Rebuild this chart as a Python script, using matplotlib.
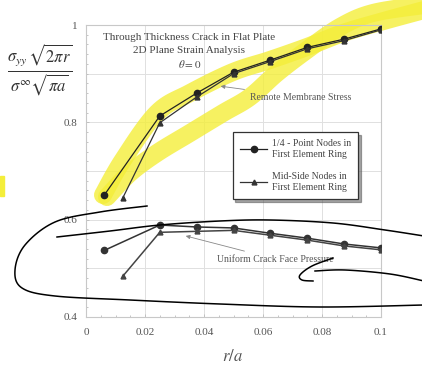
"""Crack-tip stress ratio vs r/a, scanned figure with pen marks."""
import numpy as np
import matplotlib
matplotlib.use("Agg")
import matplotlib.pyplot as plt

plt.rcParams['font.family'] = ['Liberation Serif', 'DejaVu Serif']
plt.rcParams['mathtext.fontset'] = 'stix'

# data
x_quarter = [0.00625, 0.025, 0.0375, 0.05, 0.0625, 0.075, 0.0875, 0.1]
x_mid = [0.0125, 0.025, 0.0375, 0.05, 0.0625, 0.075, 0.0875, 0.1]
remote_quarter = [0.651, 0.813, 0.860, 0.903, 0.928, 0.954, 0.971, 0.992]
remote_mid = [0.645, 0.799, 0.852, 0.900, 0.925, 0.951, 0.968, 0.990]
pressure_quarter = [0.537, 0.589, 0.585, 0.583, 0.572, 0.562, 0.550, 0.542]
pressure_mid = [0.484, 0.574, 0.576, 0.578, 0.568, 0.558, 0.546, 0.538]

title_lines = ["Through Thickness Crack in Flat Plate",
               "2D Plane Strain Analysis",
               r"$\theta = 0$"]
legend_labels = ["1/4 - Point Nodes in\nFirst Element Ring",
                 "Mid-Side Nodes in\nFirst Element Ring"]
x_ticks = [0, 0.02, 0.04, 0.06, 0.08, 0.1]
x_ticklabels = ["0", "0.02", "0.04", "0.06", "0.08", "0.1"]
y_ticks = [0.4, 0.6, 0.8, 1.0]
y_ticklabels = ["0.4", "0.6", "0.8", "1"]

# hand-drawn marks on the scan, in image pixels (x right, y down)
yellow_upper = [(103, 195), (123, 160), (157, 113), (190, 93), (233, 72),
                (270, 60), (307, 47), (343, 33), (380, 22), (424, 10)]
yellow_lower = [(107, 197), (130, 173), (157, 153), (190, 133), (223, 113),
                (250, 97), (277, 73), (307, 50), (340, 27), (373, 13), (424, 5)]
pen_outer = [(147, 206), (100, 212), (55, 222), (25, 245), (15, 270),
             (22, 288), (55, 296), (130, 300), (220, 304), (320, 307), (424, 305)]
pen_inner = [(57, 237), (110, 231), (160, 225), (220, 221), (270, 220),
             (333, 223), (385, 230), (424, 236)]
pen_hook = [(333, 258), (312, 266), (300, 275), (302, 280), (313, 281)]
pen_tail = [(424, 281), (390, 274), (345, 270), (315, 271)]

W, H = 422, 367


def smooth(pts, n=12):
    """Catmull-Rom through the stroke points."""
    p = np.array(pts, dtype=float)
    p = np.vstack([p[0], p, p[-1]])
    out = []
    for i in range(1, len(p) - 2):
        p0, p1, p2, p3 = p[i - 1], p[i], p[i + 1], p[i + 2]
        for t in np.linspace(0, 1, n, endpoint=False):
            out.append(0.5 * ((2 * p1) + (-p0 + p2) * t
                              + (2 * p0 - 5 * p1 + 4 * p2 - p3) * t ** 2
                              + (-p0 + 3 * p1 - 3 * p2 + p3) * t ** 3))
    out.append(p[-2])
    out = np.array(out)
    return out[:, 0] / W, 1 - out[:, 1] / H


fig = plt.figure(figsize=(4.22, 3.67), dpi=100)
ax = fig.add_axes([86 / W, 1 - 317 / H, 295 / W, 292 / H])

ax.plot(x_quarter, remote_quarter, color='#222222', lw=0.9, marker='o', ms=4.5, zorder=3)
ax.plot(x_mid, remote_mid, color='#333333', lw=0.9, marker='^', ms=3.5, zorder=3)
ax.plot(x_quarter, pressure_quarter, color='#333333', lw=1.1, marker='o', ms=4.5, zorder=3)
ax.plot(x_mid, pressure_mid, color='#444444', lw=1.1, marker='^', ms=3.5, zorder=3)

ax.set_xlim(0, 0.1)
ax.set_ylim(0.4, 1.0)
ax.set_xticks(x_ticks)
ax.set_xticklabels(x_ticklabels)
ax.set_yticks(y_ticks)
ax.set_yticklabels(y_ticklabels)
ax.set_xticks(np.arange(0, 0.1001, 0.005), minor=True)
ax.set_yticks(np.arange(0.4, 1.0001, 0.02), minor=True)
ax.tick_params(which='both', direction='in', colors='#bbbbbb', labelcolor='#555555',
               labelsize=8, length=2.5, width=0.6)
ax.tick_params(which='minor', length=1.5)
ax.tick_params(axis='x', pad=8)
ax.tick_params(axis='y', pad=6)
for sp in ax.spines.values():
    sp.set_color('#c8c8c8')
    sp.set_linewidth(0.8)
for gx in np.arange(0.02, 0.1, 0.02):
    ax.axvline(gx, color='#e0e0e0', lw=0.7, zorder=0)
for gy in np.arange(0.5, 1.0, 0.1):
    ax.axhline(gy, color='#e0e0e0', lw=0.7, zorder=0)

for i, line in enumerate(title_lines):
    ax.text(0.035, 0.975 - i * 0.028, line, ha='center', va='center',
            fontsize=8, color='#444444')

ax.annotate("Remote Membrane Stress", xy=(0.0447, 0.875), xytext=(0.0556, 0.852),
            fontsize=7, color='#555555', va='center',
            arrowprops=dict(arrowstyle='-|>', color='#888888', lw=0.6,
                            mutation_scale=6))
ax.annotate("Uniform Crack Face Pressure", xy=(0.0329, 0.568), xytext=(0.0444, 0.519),
            fontsize=7, color='#555555', va='center',
            arrowprops=dict(arrowstyle='-|>', color='#888888', lw=0.6,
                            mutation_scale=6))

leg = ax.legend(legend_labels, loc='upper left', bbox_to_anchor=(0.497, 0.634),
                fontsize=7, frameon=True, fancybox=False, shadow=True,
                handlelength=2.8, handletextpad=0.5, labelspacing=1.4,
                borderpad=0.75, borderaxespad=0)
leg.get_frame().set_edgecolor('#333333')
leg.get_frame().set_linewidth(0.9)
for t in leg.get_texts():
    t.set_color('#444444')

fig.text(40 / W, 1 - 70 / H,
         r"$\frac{\sigma_{yy}\,\sqrt{2\pi r}}{\sigma^{\infty}\sqrt{\pi a}}$",
         ha='center', va='center', fontsize=17, color='#333333')
fig.text(233 / W, 1 - 357 / H, r"$r/a$", ha='center', va='center',
         fontsize=12, color='#555555')

# highlighter and pen marks
for stroke in (yellow_upper, yellow_lower):
    sx, sy = smooth(stroke)
    ax.plot(sx, sy, transform=fig.transFigure, clip_on=False, color='#f4ee3a',
            lw=13, alpha=0.8, solid_capstyle='round', zorder=1)
fig.patches.append(plt.Rectangle((0, 1 - 196 / H), 4 / W, 20 / H,
                                 transform=fig.transFigure, color='#f4ee3a'))
for stroke in (pen_outer, pen_inner, pen_hook, pen_tail):
    sx, sy = smooth(stroke)
    ax.plot(sx, sy, transform=fig.transFigure, clip_on=False, color='black',
            lw=1.1, zorder=5)

fig.savefig('out.png', dpi=100)
